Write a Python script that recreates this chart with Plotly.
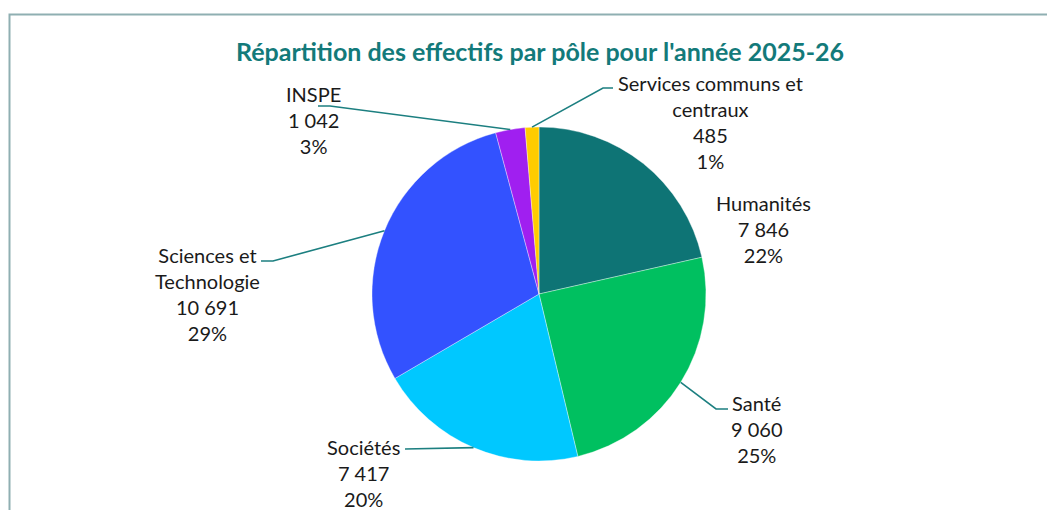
import math
import plotly.graph_objects as go

# ---- data ----
categories = ["Humanités", "Santé", "Sociétés", "Sciences et Technologie", "INSPE",
              "Services communs et centraux"]
label_lines = [["Humanités"], ["Santé"], ["Sociétés"], ["Sciences et", "Technologie"],
               ["INSPE"], ["Services communs et", "centraux"]]
effectifs = [7846, 9060, 7417, 10691, 1042, 485]
percent_labels = ["22%", "25%", "20%", "29%", "3%", "1%"]
colors = ["#0E7475", "#00C060", "#00C8FF", "#3352FF", "#A01FF0", "#FFCC00"]
title = "Répartition des effectifs par pôle pour l'année 2025-26"

# ---- layout helpers (page body has an 8px margin) ----
W, H = 1055, 510
OFF = 8
def X(px):
    return (px - OFF) / W
def Y(py):
    return 1 - (py - OFF) / H

cx, cy, R = 539, 294, 167
dom_x = [X(cx - R), X(cx + R)]
dom_y = [Y(cy + R), Y(cy - R)]

# label centre (px) and leader elbow/end (px) per slice -- layout only
label_pos = [(763, 229), (757, 429), (363, 473), (207, 294), (313, 120), (710, 122)]
leaders = [None,
           [(716, 409), (728, 409)],
           [(405, 449)],
           [(273, 261), (261, 261)],
           [(330, 106), (318, 106)],
           [(603, 88), (613, 88)]]

def fmt(v):
    return f"{v:,}".replace(",", " ")

fig = go.Figure(go.Pie(
    labels=categories, values=effectifs, sort=False, direction="clockwise",
    rotation=0, textinfo="none", hoverinfo="label+value+percent",
    marker=dict(colors=colors, line=dict(color="rgba(255,255,255,0.6)", width=0.6)),
    domain=dict(x=dom_x, y=dom_y), showlegend=False,
))

total = sum(effectifs)
annotations = []
shapes = [dict(type="rect", xref="paper", yref="paper",
               x0=X(9.5), x1=X(1080), y0=Y(540), y1=Y(14.5),
               line=dict(color="#8FAFB2", width=2), fillcolor="rgba(0,0,0,0)", layer="below")]

cum = 0
for i, v in enumerate(effectifs):
    mid = (cum + v / 2) / total * 2 * math.pi
    cum += v
    lx, ly = label_pos[i]
    text = "<br>".join(label_lines[i] + [fmt(v), percent_labels[i]])
    annotations.append(dict(x=X(lx), y=Y(ly), xref="paper", yref="paper", text=text,
                            showarrow=False, align="center", xanchor="center",
                            yanchor="middle",
                            font=dict(family="Lato, sans-serif", size=20, color="#1a1a1a")))
    if leaders[i]:
        sx = cx + R * math.sin(mid)
        sy = cy - R * math.cos(mid)
        pts = [(sx, sy)] + leaders[i]
        path = "M " + " L ".join(f"{X(px)},{Y(py)}" for px, py in pts)
        shapes.append(dict(type="path", xref="paper", yref="paper", path=path,
                           line=dict(color="#1C7F80", width=1.6)))

fig.update_layout(
    width=W, height=H,
    margin=dict(l=0, r=0, t=0, b=0),
    paper_bgcolor="white", plot_bgcolor="white",
    title=dict(text=f"<b>{title}</b>", x=X(540), y=Y(52), xanchor="center",
               yanchor="middle", font=dict(family="Lato, sans-serif", size=25,
                                           color="#137A7A")),
    annotations=annotations, shapes=shapes,
)

fig.write_html("out.html")
